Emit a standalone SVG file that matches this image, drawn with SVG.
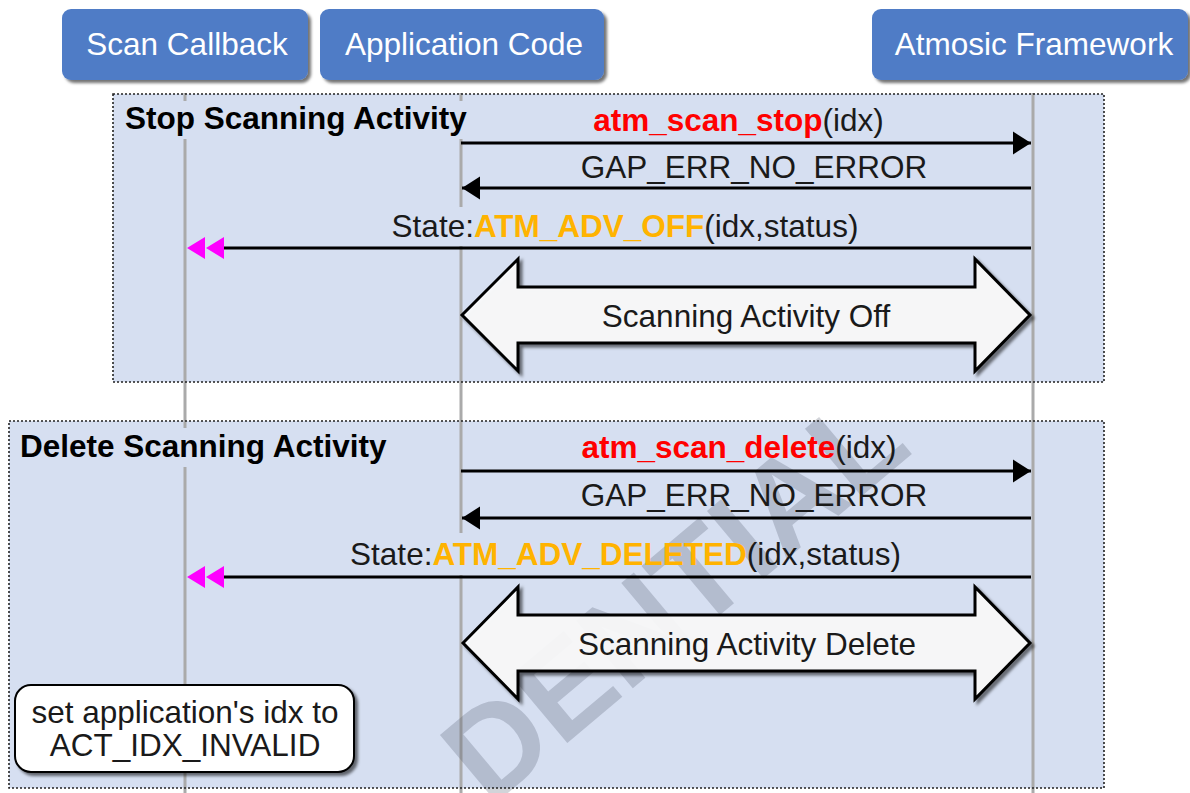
<svg xmlns="http://www.w3.org/2000/svg" width="1190" height="793" viewBox="0 0 1190 793">
<style>
  .hdr rect{fill:#4F7CC6;}
  .hdr text{fill:#FFFFFF;font-family:"Liberation Sans",Arial,sans-serif;font-size:31.5px;text-anchor:middle;}
  .frag{fill:#D6DFF1;}
  .fragb{fill:none;stroke:#222;stroke-width:1.6;stroke-dasharray:2 2;}
  .flabel{font-family:"Liberation Sans",Arial,sans-serif;font-size:31.5px;font-weight:bold;fill:#000;}
  .life{stroke:#AAAAAA;stroke-width:3;fill:none;}
  .lbg{fill:#D6DFF1;}
  .msg{stroke:#000;stroke-width:3;fill:none;}
  .t{font-family:"Liberation Sans",Arial,sans-serif;font-size:31.5px;fill:#1a1a1a;text-anchor:middle;}
  .fn{font-weight:bold;fill:#FF0000;}
  .st{font-weight:bold;fill:#FFB300;}
  .big{fill:#FFFFFF;fill-opacity:0.88;stroke:#000;stroke-width:3;stroke-linejoin:miter;}
  .wm{font-family:"Liberation Sans",Arial,sans-serif;font-size:128px;font-weight:bold;fill:#4A5568;fill-opacity:0.25;}
</style>
<defs>
  <filter id="sh" x="-10%" y="-10%" width="130%" height="140%">
    <feDropShadow dx="3" dy="3" stdDeviation="1.5" flood-color="#000" flood-opacity="0.55"/>
  </filter>
  <marker id="ah" markerUnits="userSpaceOnUse" markerWidth="18" markerHeight="23" refX="18" refY="11.5" orient="auto" overflow="visible">
    <path d="M0,0 L18,11.5 L0,23 Z" fill="#000"/>
  </marker>
  <marker id="pk" markerUnits="userSpaceOnUse" markerWidth="37" markerHeight="22" refX="0" refY="11" orient="auto" overflow="visible">
    <path d="M0,0 L18,11 L0,22 Z M19,0 L37,11 L19,22 Z" fill="#FF00FF"/>
  </marker>
</defs>

<!-- fragment fills -->
<rect class="frag" x="113" y="94" width="991" height="288"/>
<rect class="frag" x="9" y="421" width="1095" height="367"/>

<!-- lifelines -->
<g id="lifelines">
  <line class="life" x1="185" y1="93" x2="185" y2="793"/>
  <line class="life" x1="461" y1="93" x2="461" y2="793"/>
  <line class="life" x1="1033" y1="93" x2="1033" y2="793"/>
</g>

<!-- label backgrounds -->
<rect class="lbg" x="114" y="101" width="358" height="38"/>
<rect class="lbg" x="10" y="428" width="386" height="39"/>
<rect class="lbg" x="384" y="207" width="482" height="39"/>
<rect class="lbg" x="341" y="533" width="569" height="42"/>

<!-- watermark -->
<text class="wm" transform="translate(490,808) rotate(-40)">DENTIAL</text>

<!-- headers -->
<g id="scan-callback" class="hdr">
  <rect x="62" y="9" width="246" height="71" rx="9" filter="url(#sh)"/>
  <text x="187" y="55">Scan Callback</text>
</g>
<g id="application-code" class="hdr">
  <rect x="320" y="9" width="284" height="71" rx="9" filter="url(#sh)"/>
  <text x="464" y="55">Application Code</text>
</g>
<g id="atmosic-framework" class="hdr">
  <rect x="872" y="9" width="316" height="71" rx="9" filter="url(#sh)"/>
  <text x="1034" y="55">Atmosic Framework</text>
</g>

<!-- fragment labels -->
<g id="frag-stop">
  <text class="flabel" x="125" y="129">Stop Scanning Activity</text>
</g>
<g id="frag-delete">
  <text class="flabel" x="20" y="457">Delete Scanning Activity</text>
</g>

<!-- state blocks -->
<g id="state-off">
  <polygon class="big" filter="url(#sh)" points="462,315 518,259 518,287 975,287 975,259 1030,315 975,371 975,343 518,343 518,371"/>
  <text class="t" x="746" y="327">Scanning Activity Off</text>
</g>
<g id="state-delete">
  <polygon class="big" filter="url(#sh)" points="463,643 518,587 518,615 975,615 975,587 1030,643 975,699 975,671 518,671 518,699"/>
  <text class="t" x="747" y="655">Scanning Activity Delete</text>
</g>

<!-- connectors -->
<g id="connectors">
  <line class="msg" x1="461" y1="143" x2="1031" y2="143" marker-end="url(#ah)"/>
  <line class="msg" x1="1031" y1="188" x2="462" y2="188" marker-end="url(#ah)"/>
  <line class="msg" x1="1031" y1="248" x2="224" y2="248" marker-end="url(#pk)"/>
  <line class="msg" x1="461" y1="471" x2="1031" y2="471" marker-end="url(#ah)"/>
  <line class="msg" x1="1031" y1="518" x2="462" y2="518" marker-end="url(#ah)"/>
  <line class="msg" x1="1031" y1="577" x2="224" y2="577" marker-end="url(#pk)"/>
</g>

<!-- message labels -->
<g id="labels">
  <text class="t" x="738.5" y="131"><tspan class="fn">atm_scan_stop</tspan>(idx)</text>
  <text class="t" x="754" y="178">GAP_ERR_NO_ERROR</text>
  <text class="t" x="625" y="237">State:<tspan class="st">ATM_ADV_OFF</tspan>(idx,status)</text>
  <text class="t" x="739" y="458"><tspan class="fn">atm_scan_delete</tspan>(idx)</text>
  <text class="t" x="754" y="506">GAP_ERR_NO_ERROR</text>
  <text class="t" x="625.5" y="565">State:<tspan class="st">ATM_ADV_DELETED</tspan>(idx,status)</text>
</g>

<!-- note -->
<g id="note">
  <rect x="15" y="685" width="339" height="87" rx="16" fill="#FFFFFF" stroke="#000" stroke-width="2" filter="url(#sh)"/>
  <text class="t" x="185" y="723">set application's idx to</text>
  <text class="t" x="185" y="756">ACT_IDX_INVALID</text>
</g>

<!-- fragment borders -->
<rect class="fragb" x="113" y="94" width="991" height="288"/>
<rect class="fragb" x="9" y="421" width="1095" height="367"/>
</svg>
